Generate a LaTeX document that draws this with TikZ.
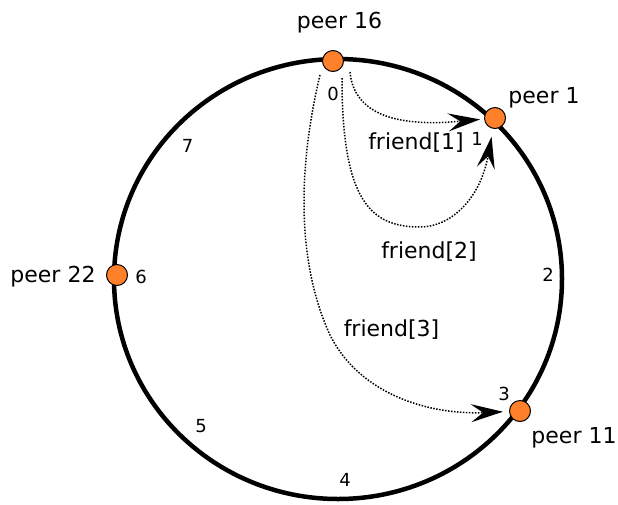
\documentclass[tikz,border=0pt]{standalone}
\usepackage{fontspec}
\setmainfont{DejaVu Sans}
\usetikzlibrary{arrows.meta,calc}
\definecolor{peerorange}{RGB}{255,128,42}
\begin{document}
\begin{tikzpicture}[x=1pt,y=-1pt,
  peer/.style={circle,draw=black,line width=1pt,fill=peerorange,minimum size=21pt,inner sep=0pt},
  lbl/.style={font=\fontsize{22}{26}\selectfont,anchor=base,inner sep=0pt},
  num/.style={font=\fontsize{18}{22}\selectfont,anchor=base,inner sep=0pt},
  link/.style={line width=1.5pt,dash pattern=on 1.5pt off 1.5pt,-{Stealth[length=32pt,width=18pt,inset=12pt]}}]
\useasboundingbox (0,0) rectangle (618,504);
\fill[white] (0,0) rectangle (618,504);
\draw[line width=4.5pt] (338,279) ellipse [x radius=224pt, y radius=220pt];
% peers
\node[peer] (p16) at (333,61) {};
\node[peer] (p1) at (495,118) {};
\node[peer] (p11) at (520,411) {};
\node[peer] (p22) at (117,275) {};
% labels
\node[lbl] (l16) at (339.5,28) {peer 16};
\node[lbl] (l1) at (544,103) {peer 1};
\node[lbl] (l22) at (53,282) {peer 22};
\node[lbl] (l11) at (574,443) {peer 11};
\node[lbl] (f1) at (416,149) {friend[1]};
\node[lbl] (f2) at (429,258) {friend[2]};
\node[lbl] (f3) at (391.5,336.7) {friend[3]};
% position numbers
\node[num] (n0) at (333,100.7) {0};
\node[num] (n1) at (477,145) {1};
\node[num] (n2) at (548,281) {2};
\node[num] (n3) at (504,400.7) {3};
\node[num] (n4) at (345,486.7) {4};
\node[num] (n5) at (201,432) {5};
\node[num] (n6) at (141,283.3) {6};
\node[num] (n7) at (187.7,152.3) {7};
% links
\draw[link,shorten >=4pt] ($(p16)+(17,11)$) .. controls (355,125) and (420,125) .. (p1);
\draw[link,shorten >=8pt] ($(p16)+(9,17)$) .. controls (342,200) and (370,227) .. (420,227)
   .. controls (450,227) and (480,200) .. (p1);
\draw[link,shorten >=6pt] ($(p16)+(-13,14)$) .. controls (295,180) and (300,270) .. (330,335)
   .. controls (360,395) and (430,415) .. (p11);
\end{tikzpicture}
\end{document}
